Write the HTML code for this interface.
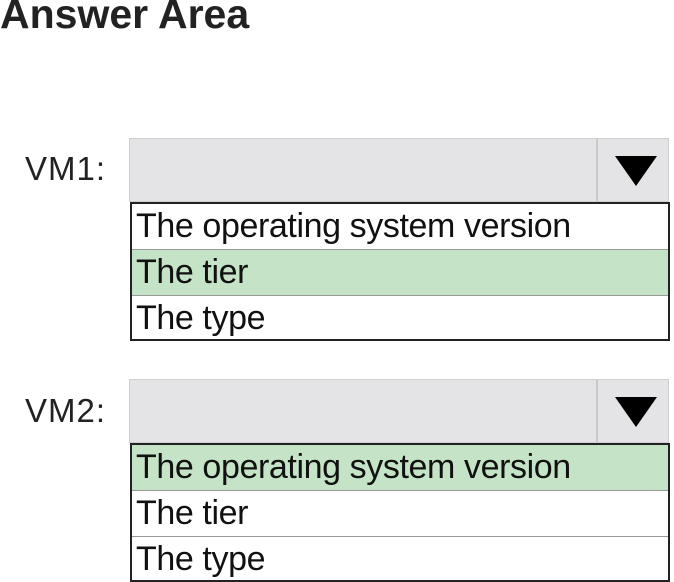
<!DOCTYPE html>
<html><head><style>
body{margin:0;width:674px;height:582px;background:#fff;position:relative;font-family:"Liberation Sans",Arial,sans-serif;overflow:hidden}
.t{position:absolute;left:0px;top:-9px;font-size:41px;font-weight:bold;color:#222;letter-spacing:0px}
.lb{position:absolute;font-size:33px;color:#222;letter-spacing:1px}
.hd{position:absolute;left:129px;width:540px;height:64px;background:#e4e3e6;border:1px solid #cfcfcf;box-sizing:border-box}
.hd .dv{position:absolute;left:466px;top:0;bottom:0;border-left:2px solid #c8c8c8}
.hd .ar{position:absolute;left:485px;top:17px;width:0;height:0;border-left:21px solid transparent;border-right:21px solid transparent;border-top:30px solid #000}
.ls{position:absolute;left:130px;width:540px;border:2px solid #222;box-sizing:border-box;background:#fff}
.r{height:45px;line-height:44px;font-size:34px;color:#111;padding-left:4px;border-bottom:1px solid #999;white-space:nowrap;letter-spacing:-0.4px}
.r:last-child{border-bottom:none}
.g{background:#c5e3c6}
</style></head><body>
<div class="t">Answer Area</div>
<div class="lb" style="left:25px;top:150px">VM1:</div>
<div class="hd" style="top:138px"><div class="dv"></div><div class="ar"></div></div>
<div class="ls" style="top:202px;height:139px">
<div class="r">The operating system version</div>
<div class="r g">The tier</div>
<div class="r">The type</div>
</div>
<div class="lb" style="left:25px;top:392px">VM2:</div>
<div class="hd" style="top:379px"><div class="dv"></div><div class="ar"></div></div>
<div class="ls" style="top:443px;height:139px">
<div class="r g">The operating system version</div>
<div class="r">The tier</div>
<div class="r">The type</div>
</div>
</body></html>
